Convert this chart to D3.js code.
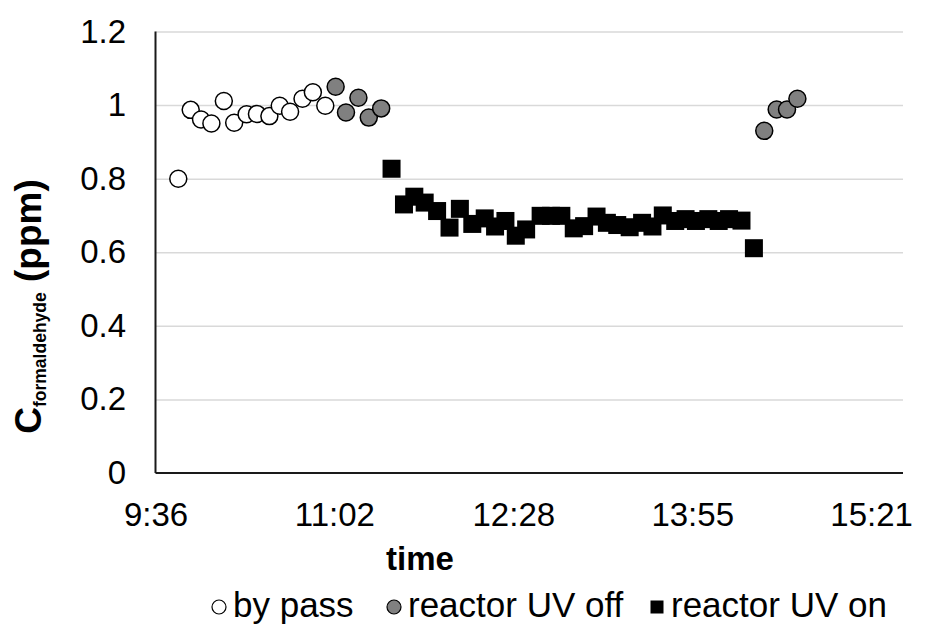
<!DOCTYPE html>
<html>
<head>
<meta charset="utf-8">
<script src="https://cdn.jsdelivr.net/npm/d3@7"></script>
<style>
  body { margin: 0; background: #fff; }
  svg { display: block; font-family: "Liberation Sans", Arial, sans-serif; }
</style>
</head>
<body>
<svg id="chart" width="929" height="626"></svg>
<script>
// sampling times (h:mm) and formaldehyde concentration (ppm)
const bypassTimes = ["9:47","9:53","9:58","10:03","10:09","10:14","10:20","10:25","10:31","10:36","10:41","10:47","10:52","10:58"];
const bypassValues = [0.80,0.987,0.961,0.950,1.011,0.952,0.975,0.976,0.970,0.998,0.982,1.017,1.035,0.998];

const uvOffTimes = ["11:03","11:08","11:14","11:19","11:25","14:30","14:36","14:41","14:46"];
const uvOffValues = [1.050,0.980,1.020,0.966,0.991,0.930,0.988,0.988,1.017];

const uvOnTimes = ["11:30","11:36","11:41","11:46","11:52","11:58","12:03","12:09","12:15","12:20","12:25","12:30","12:35","12:42","12:47","12:52","12:58","13:03","13:09","13:14","13:19","13:25","13:31","13:36","13:41","13:47","13:52","13:57","14:03","14:08","14:13","14:19","14:25"];
const uvOnValues = [0.827,0.730,0.751,0.735,0.712,0.667,0.718,0.677,0.692,0.670,0.685,0.645,0.662,0.699,0.699,0.699,0.665,0.671,0.697,0.680,0.674,0.668,0.680,0.670,0.700,0.685,0.690,0.685,0.690,0.685,0.690,0.686,0.611];

const xTickValues = [0.40, 0.46, 0.52, 0.58, 0.64];   // fraction of a day
const yTickValues = [0, 0.2, 0.4, 0.6, 0.8, 1, 1.2];
const legendLabels = ["by pass", "reactor UV off", "reactor UV on"];

const plotLeft = 155.5, plotRight = 903, plotTop = 31.5, plotBottom = 473;
const tickFont = 33;

const dayFrac = (s) => {
    const [h, m] = s.split(":").map(Number);
    return (h * 60 + m) / 1440;
}
const fmtTime = (d) => {
    const mins = Math.floor(d * 1440 + 1e-6);
    return Math.floor(mins / 60) + ":" + String(mins % 60).padStart(2, "0");
}
const zip = (ts, vs) => ts.map((t, i) => ({ x: dayFrac(t), y: vs[i] }));

const xScale = d3.scaleLinear().domain([0.4, 0.6507]).range([plotLeft, plotRight]);
const yScale = d3.scaleLinear().domain([0, 1.2]).range([plotBottom, plotTop]);

const svg = d3.select("#chart");

// gridlines
svg.append("g")
    .attr("transform", `translate(${plotLeft},0)`)
    .call(d3.axisLeft(yScale).tickValues(yTickValues.slice(1)).tickSize(-(plotRight - plotLeft)).tickFormat(""))
    .call(g => g.select(".domain").remove())
    .call(g => g.selectAll("line").attr("stroke", "#d9d9d9").attr("stroke-width", 1.5));

// y tick labels
svg.append("g")
    .attr("transform", `translate(${plotLeft},0)`)
    .call(d3.axisLeft(yScale).tickValues(yTickValues).tickSize(0).tickPadding(29.5).tickFormat(d3.format("")))
    .call(g => g.select(".domain").remove())
    .call(g => g.selectAll("text").attr("font-size", tickFont).attr("fill", "#000").attr("font-family", "Liberation Sans, Arial, sans-serif"));

// x tick labels
svg.append("g")
    .attr("transform", `translate(0,${plotBottom})`)
    .call(d3.axisBottom(xScale).tickValues(xTickValues).tickSize(0).tickPadding(30).tickFormat(fmtTime))
    .call(g => g.select(".domain").remove())
    .call(g => g.selectAll("text").attr("font-size", tickFont).attr("fill", "#000").attr("font-family", "Liberation Sans, Arial, sans-serif"));

// axis lines
svg.append("line")
    .attr("x1", plotLeft).attr("x2", plotLeft).attr("y1", plotTop).attr("y2", plotBottom)
    .attr("stroke", "#1a1a1a").attr("stroke-width", 2);
svg.append("line")
    .attr("x1", plotLeft).attr("x2", plotRight).attr("y1", plotBottom).attr("y2", plotBottom)
    .attr("stroke", "#1a1a1a").attr("stroke-width", 2);

// data
const plot = svg.append("g");

plot.selectAll("circle.bypass")
    .data(zip(bypassTimes, bypassValues))
    .enter()
    .append("circle")
    .attr("class", "bypass")
    .attr("cx", d => xScale(d.x))
    .attr("cy", d => yScale(d.y))
    .attr("r", 8.5)
    .attr("fill", "#fff")
    .attr("stroke", "#000")
    .attr("stroke-width", 1.5);

plot.selectAll("circle.uvoff")
    .data(zip(uvOffTimes, uvOffValues))
    .enter()
    .append("circle")
    .attr("class", "uvoff")
    .attr("cx", d => xScale(d.x))
    .attr("cy", d => yScale(d.y))
    .attr("r", 8.5)
    .attr("fill", "#808080")
    .attr("stroke", "#000")
    .attr("stroke-width", 1.5);

const sq = 18;
plot.selectAll("rect.uvon")
    .data(zip(uvOnTimes, uvOnValues))
    .enter()
    .append("rect")
    .attr("class", "uvon")
    .attr("x", d => xScale(d.x) - sq / 2)
    .attr("y", d => yScale(d.y) - sq / 2)
    .attr("width", sq)
    .attr("height", sq)
    .attr("fill", "#000");

// axis titles
svg.append("text")
    .attr("x", 420)
    .attr("y", 570)
    .attr("text-anchor", "middle")
    .attr("font-size", 33)
    .attr("font-weight", "bold")
    .text("time");

const yTitle = svg.append("text")
    .attr("transform", "translate(41,306.5) rotate(-90)")
    .attr("text-anchor", "middle")
    .attr("font-weight", "bold")
    .attr("font-size", 37);
yTitle.append("tspan").text("C");
yTitle.append("tspan").attr("font-size", 17.5).attr("dy", 5).text("formaldehyde");
yTitle.append("tspan").attr("dy", -5).text(" (ppm)");

// legend
const legendX = [219, 394, 657];
const legend = svg.append("g").attr("font-size", 35);
const ly = 607;
legendLabels.forEach((label, i) => {
    const lx = legendX[i];
    if (i === 2) {
        legend.append("rect")
            .attr("x", lx - 6.5).attr("y", ly - 6.5)
            .attr("width", 13).attr("height", 13)
            .attr("fill", "#000");
    } else {
        legend.append("circle")
            .attr("cx", lx).attr("cy", ly).attr("r", 7)
            .attr("fill", i === 0 ? "#fff" : "#808080")
            .attr("stroke", "#000").attr("stroke-width", 1.2);
    }
    legend.append("text")
        .attr("x", lx + 14)
        .attr("y", 617)
        .text(label);
});
</script>
</body>
</html>
